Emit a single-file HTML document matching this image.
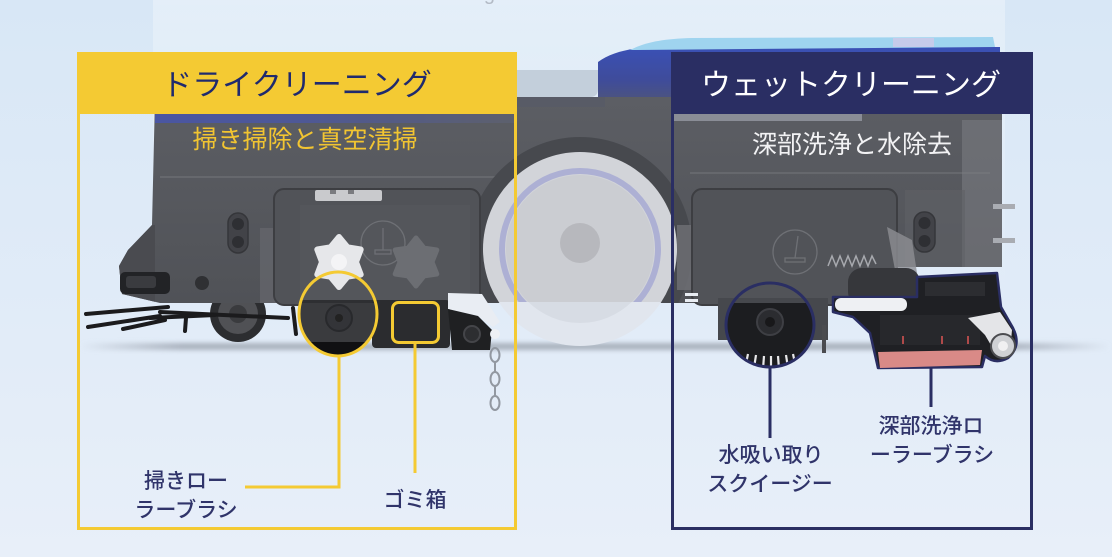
<!DOCTYPE html>
<html><head><meta charset="utf-8">
<style>
html,body{margin:0;padding:0;width:1112px;height:557px;overflow:hidden;background:#e0ebf7;}
svg{display:block}
text{font-family:"Liberation Sans","Noto Sans CJK JP",sans-serif;}
</style></head><body>
<svg width="1112" height="557" viewBox="0 0 1112 557" xmlns="http://www.w3.org/2000/svg">
<defs>
 <linearGradient id="bg" x1="0" y1="0" x2="0" y2="1">
  <stop offset="0" stop-color="#d8e7f6"/>
  <stop offset="1" stop-color="#e8eff9"/>
 </linearGradient>
 <linearGradient id="band" x1="0" y1="0" x2="0" y2="1">
  <stop offset="0" stop-color="#ffffff" stop-opacity="0.3"/>
  <stop offset="1" stop-color="#ffffff" stop-opacity="0"/>
 </linearGradient>
 <linearGradient id="blue" x1="0" y1="0" x2="0" y2="1">
  <stop offset="0" stop-color="#3a50b6"/>
  <stop offset="0.5" stop-color="#3f4c9a"/>
  <stop offset="1" stop-color="#56596a"/>
 </linearGradient>
 <linearGradient id="bodyg" x1="0" y1="0" x2="0" y2="1">
  <stop offset="0" stop-color="#5c5e64"/>
  <stop offset="1" stop-color="#505257"/>
 </linearGradient>
 <linearGradient id="topband" x1="0" y1="0" x2="1" y2="0">
  <stop offset="0" stop-color="#4a56a2"/>
  <stop offset="0.4" stop-color="#4e5896"/>
  <stop offset="1" stop-color="#5d606c"/>
 </linearGradient>
 <linearGradient id="shadow" x1="0" y1="0" x2="1" y2="0">
  <stop offset="0" stop-color="#aab2be" stop-opacity="0"/>
  <stop offset="0.1" stop-color="#aab2be" stop-opacity="1"/>
  <stop offset="0.9" stop-color="#aab2be" stop-opacity="1"/>
  <stop offset="1" stop-color="#aab2be" stop-opacity="0"/>
 </linearGradient>
 <filter id="blur" x="-5%" y="-200%" width="110%" height="500%"><feGaussianBlur stdDeviation="2.5"/></filter>
 <clipPath id="bodyclip"><path d="M155,97 L1002,97 L1002,267 L828,267 L828,303 L160,303 L122,294 L119,266 L128,250 L152,225 Z"/></clipPath>
 <clipPath id="yc"><ellipse cx="338" cy="314" rx="39" ry="42"/></clipPath>
 <clipPath id="nc"><ellipse cx="770" cy="325" rx="44" ry="42"/></clipPath>
 <clipPath id="above"><rect x="0" y="0" width="1112" height="302"/></clipPath>
 <clipPath id="below"><rect x="0" y="302" width="1112" height="300"/></clipPath>
</defs>

<!-- background -->
<rect x="0" y="0" width="1112" height="557" fill="url(#bg)"/>
<rect x="153" y="0" width="852" height="300" fill="url(#band)"/>
<text x="485" y="0" font-size="20" fill="#b3bac5" text-anchor="middle">Cleaning Robot</text>

<!-- floor shadow -->
<rect x="80" y="343" width="1030" height="7" fill="url(#shadow)" filter="url(#blur)"/>

<!-- top cover -->
<path d="M470,70 L598,70 L598,89 Q598,97 590,97 L470,97 Z" fill="#c3cfdb"/>
<path d="M598,114 L598,62 C612,52 632,47 662,47 L1000,47 L1000,114 Z" fill="url(#blue)"/>
<path d="M630,50 C646,42 662,39 692,38 L993,37 L995,47 L630,50 Z" fill="#9fd4ef"/>
<rect x="893" y="38" width="41" height="9" fill="#c6cbea"/>

<!-- small left wheel (behind body) -->
<circle cx="238" cy="314" r="28" fill="#2c2d30"/>
<circle cx="238" cy="314" r="20" fill="#505155"/>
<circle cx="238" cy="314" r="9" fill="#3a3b3e"/>

<!-- body -->
<path d="M155,97 L1002,97 L1002,267 L828,267 L828,303 L160,303 L122,294 L119,266 L128,250 L152,225 Z" fill="url(#bodyg)"/>
<g clip-path="url(#bodyclip)">
 <rect x="155" y="97" width="450" height="10" fill="#585b66"/>
 <rect x="155" y="113" width="362" height="10" fill="url(#topband)"/>
 <rect x="672" y="113" width="190" height="8" fill="#8a8d96"/>
 <rect x="160" y="176" width="340" height="2" fill="#66686d"/>
 <rect x="690" y="172" width="300" height="2" fill="#66686d"/>
 <circle cx="580" cy="249" r="112" fill="#47494e"/>
 <rect x="962" y="120" width="40" height="147" fill="#7b7d83" opacity="0.55"/>
 <rect x="905" y="190" width="60" height="77" fill="#5f6166" opacity="0.6"/>
 <rect x="119" y="225" width="36" height="80" fill="#4a4b50"/>
 <rect x="260" y="228" width="18" height="75" fill="#66686d" opacity="0.7"/>
 <rect x="677" y="225" width="18" height="65" fill="#6f7176" opacity="0.8"/>
</g>
<rect x="993" y="204" width="22" height="5" fill="#a9acb2"/>
<rect x="993" y="238" width="22" height="5" fill="#a9acb2"/>

<!-- panels -->
<rect x="274" y="189" width="206" height="116" rx="10" fill="#515358" stroke="#3d3e42" stroke-width="2"/>
<rect x="692" y="189" width="205" height="116" rx="10" fill="#515358" stroke="#3d3e42" stroke-width="2"/>
<rect x="315" y="190" width="67" height="11" rx="2" fill="#c9cacd"/>
<rect x="330" y="190" width="6" height="4" fill="#7a7b7f"/>
<rect x="348" y="190" width="6" height="4" fill="#7a7b7f"/>
<rect x="300" y="205" width="170" height="98" fill="#56585d" opacity="0.6"/>

<!-- indicators -->
<rect x="228" y="213" width="20" height="40" rx="10" fill="#424348" stroke="#35363a" stroke-width="1.5"/>
<circle cx="238" cy="224" r="6" fill="#2e2f33"/>
<circle cx="238" cy="242" r="6" fill="#2e2f33"/>
<rect x="914" y="212" width="21" height="40" rx="10" fill="#424348" stroke="#35363a" stroke-width="1.5"/>
<circle cx="924.5" cy="223" r="6" fill="#2e2f33"/>
<circle cx="924.5" cy="241" r="6" fill="#2e2f33"/>

<!-- faint icons -->
<g stroke="#6e7075" stroke-width="1.3" fill="none">
 <circle cx="383" cy="243" r="22"/>
 <line x1="383" y1="228" x2="383" y2="250"/>
 <rect x="375" y="250" width="16" height="4"/>
 <circle cx="795" cy="252" r="22"/>
 <line x1="798" y1="236" x2="795" y2="258"/>
 <rect x="785" y="258" width="20" height="4"/>
</g>

<!-- stars -->
<path d="M339,237 L347.5,247.3 L360.7,249.5 L356,262 L360.7,274.5 L347.5,276.7 L339,287 L330.5,276.7 L317.3,274.5 L322,262 L317.3,249.5 L330.5,247.3 Z" fill="#e6e7ea" stroke="#e6e7ea" stroke-width="6" stroke-linejoin="round"/>
<circle cx="339" cy="262" r="8" fill="#f4f4f6"/>
<path d="M416,238 L424,248.1 L436.8,250 L432,262 L436.8,274 L424,275.9 L416,286 L408,275.9 L395.2,274 L400,262 L395.2,250 L408,248.1 Z" fill="#6c6e73" stroke="#6c6e73" stroke-width="5" stroke-linejoin="round"/>

<!-- big wheel -->
<g clip-path="url(#above)">
 <circle cx="580" cy="249" r="97" fill="#d2d4d9"/>
 <circle cx="580" cy="249" r="78" fill="none" stroke="#adb0d4" stroke-width="6"/>
 <circle cx="580" cy="249" r="74" fill="#cbcdd2"/>
</g>
<g clip-path="url(#below)">
 <circle cx="580" cy="249" r="97" fill="#e1e6ee"/>
 <circle cx="580" cy="249" r="74" fill="#d7dce4"/>
</g>
<circle cx="580" cy="243" r="20" fill="#b7b8bd"/>

<!-- brushes left -->
<g stroke="#1b1b1d" stroke-width="4" stroke-linecap="round" fill="none">
 <line x1="86" y1="314" x2="168" y2="307"/>
 <line x1="88" y1="327" x2="160" y2="316"/>
 <line x1="123" y1="329" x2="165" y2="320"/>
 <line x1="160" y1="312" x2="288" y2="318"/>
 <line x1="150" y1="318" x2="215" y2="315"/>
 <line x1="186" y1="318" x2="185" y2="331"/>
 <line x1="293" y1="308" x2="296" y2="334"/>
</g>
<!-- bumper -->
<rect x="120" y="272" width="50" height="22" rx="5" fill="#222326"/>
<rect x="126" y="276" width="30" height="12" rx="3" fill="#3a3b3f"/>
<circle cx="202" cy="283" r="7" fill="#2f3033"/>

<!-- dry under parts -->
<rect x="300" y="300" width="76" height="10" fill="#2e2f32"/>
<rect x="372" y="300" width="78" height="48" rx="4" fill="#2b2c2f"/>
<path d="M448,293 L482,294 L500,322 L493,327 L478,316 L448,309 Z" fill="#e9edf3"/>
<path d="M448,309 L478,316 L492,330 L490,350 L452,350 Z" fill="#1f2022"/>
<circle cx="472" cy="334" r="8" fill="#2d2e31" stroke="#444549" stroke-width="2"/>
<circle cx="495" cy="334" r="5" fill="#eef0f4"/>
<g stroke="#9298a1" stroke-width="2" fill="none">
 <ellipse cx="495" cy="355" rx="4.5" ry="7"/>
 <line x1="495" y1="362" x2="495" y2="372"/>
 <ellipse cx="495" cy="379" rx="4.5" ry="7"/>
 <line x1="495" y1="386" x2="495" y2="396"/>
 <ellipse cx="495" cy="403" rx="4.5" ry="7"/>
</g>

<!-- roller in yellow circle -->
<g clip-path="url(#yc)">
 <rect x="290" y="303" width="100" height="60" fill="#3a3b3e"/>
 <rect x="290" y="342" width="100" height="20" fill="#101012"/>
 <circle cx="339" cy="318" r="13" fill="#333438" stroke="#28292c" stroke-width="2"/>
 <circle cx="339" cy="318" r="4" fill="#222"/>
</g>

<!-- wet under parts -->
<rect x="718" y="298" width="110" height="42" fill="#46484d"/>
<rect x="822" y="325" width="4" height="28" fill="#4a4b4f"/>
<g clip-path="url(#nc)">
 <rect x="720" y="303" width="100" height="70" fill="#1c1d20"/>
 <circle cx="770" cy="322" r="13" fill="#2b2c30" stroke="#3e3f44" stroke-width="2"/>
 <circle cx="770" cy="322" r="5" fill="#18181a"/>
 <g stroke="#e8e8ea" stroke-width="2.2">
  <line x1="748" y1="354" x2="745" y2="368"/>
  <line x1="756" y1="355" x2="754" y2="368"/>
  <line x1="764" y1="356" x2="763" y2="369"/>
  <line x1="771" y1="356" x2="771" y2="369"/>
  <line x1="778" y1="356" x2="779" y2="369"/>
  <line x1="786" y1="355" x2="788" y2="368"/>
  <line x1="793" y1="354" x2="796" y2="368"/>
 </g>
</g>
<rect x="685" y="293" width="13" height="3" fill="#e8ecf2"/>
<rect x="685" y="299" width="13" height="3" fill="#e8ecf2"/>

<!-- spring and arm -->
<path d="M887,227 L912,240 L917,273 L895,270 Z" fill="#8d8f94" opacity="0.8"/>
<path d="M828,266 l4,-10 l4,10 l4,-10 l4,10 l4,-10 l4,10 l4,-10 l4,10 l4,-10 l4,10 l4,-10 l4,8" stroke="#a7a9ae" stroke-width="1.5" fill="none"/>

<!-- right roller assembly -->
<rect x="848" y="268" width="72" height="38" rx="14" fill="#36373b"/>
<path d="M833,297 L917,297 L917,277 L997,273 L1001,307 L1013,328 Q1022,346 1008,358 Q995,365 985,356 L982,367 L878,368 L870,333 L853,317 L833,312 Z" fill="#1f2024" stroke="#2a2e63" stroke-width="2.5" stroke-linejoin="round"/>
<rect x="835" y="298" width="72" height="13" rx="6" fill="#eef0f3"/>
<rect x="880" y="315" width="100" height="30" fill="#27282c"/>
<g stroke="#b04a4a" stroke-width="2">
 <line x1="903" y1="336" x2="903" y2="344"/>
 <line x1="942" y1="336" x2="942" y2="344"/>
 <line x1="968" y1="336" x2="968" y2="344"/>
</g>
<path d="M878,352 L982,350 L980,365 L880,368 Z" fill="#d98a87"/>
<path d="M968,318 L1000,312 L1012,330 L1010,352 L995,352 L985,335 Z" fill="#e4e5e8"/>
<circle cx="1003" cy="346" r="12" fill="#cfd1d5" stroke="#4b4c50" stroke-width="2"/>
<circle cx="1003" cy="346" r="5" fill="#f0f0f2"/>
<rect x="925" y="282" width="60" height="14" fill="#2c2d31"/>

<!-- dry box -->
<rect x="77" y="52" width="440" height="62" fill="#f4ca33"/>
<rect x="78.5" y="53.5" width="437" height="475" fill="none" stroke="#f4ca33" stroke-width="3"/>
<!-- wet box -->
<rect x="671" y="52" width="362" height="62" fill="#2a2e63"/>
<rect x="672.5" y="53.5" width="359" height="475" fill="none" stroke="#2a2e63" stroke-width="3"/>

<!-- titles -->
<text x="297" y="95" font-size="30" fill="#1f2a6e" text-anchor="middle">ドライクリーニング</text>
<text x="851" y="95" font-size="30" fill="#ffffff" text-anchor="middle">ウェットクリーニング</text>
<text x="305" y="148" font-size="25" fill="#f2c531" text-anchor="middle">掃き掃除と真空清掃</text>
<text x="852" y="153" font-size="25" fill="#f2f2f4" text-anchor="middle">深部洗浄と水除去</text>

<!-- highlights -->
<ellipse cx="338" cy="314" rx="39" ry="42" fill="none" stroke="#f4ca33" stroke-width="3"/>
<rect x="392.5" y="302.5" width="46" height="40" rx="6" fill="none" stroke="#f4ca33" stroke-width="3"/>
<ellipse cx="770" cy="325" rx="44" ry="42" fill="none" stroke="#2a2e63" stroke-width="3"/>

<!-- connectors -->
<polyline points="339,356 339,487 245,487" fill="none" stroke="#f4ca33" stroke-width="3"/>
<line x1="415" y1="343" x2="415" y2="473" stroke="#f4ca33" stroke-width="3"/>
<line x1="770" y1="367" x2="770" y2="438" stroke="#2a2e63" stroke-width="3"/>
<line x1="931" y1="368" x2="931" y2="407" stroke="#2a2e63" stroke-width="3"/>

<!-- labels -->
<g font-size="21" fill="#30346a" text-anchor="middle" font-weight="500">
 <text x="186" y="488">掃きロー</text>
 <text x="186" y="517">ラーブラシ</text>
 <text x="415" y="507">ゴミ箱</text>
 <text x="771" y="462">水吸い取り</text>
 <text x="770" y="491">スクイージー</text>
 <text x="931" y="433">深部洗浄ロ</text>
 <text x="932" y="462">ーラーブラシ</text>
</g>
</svg>
</body></html>
